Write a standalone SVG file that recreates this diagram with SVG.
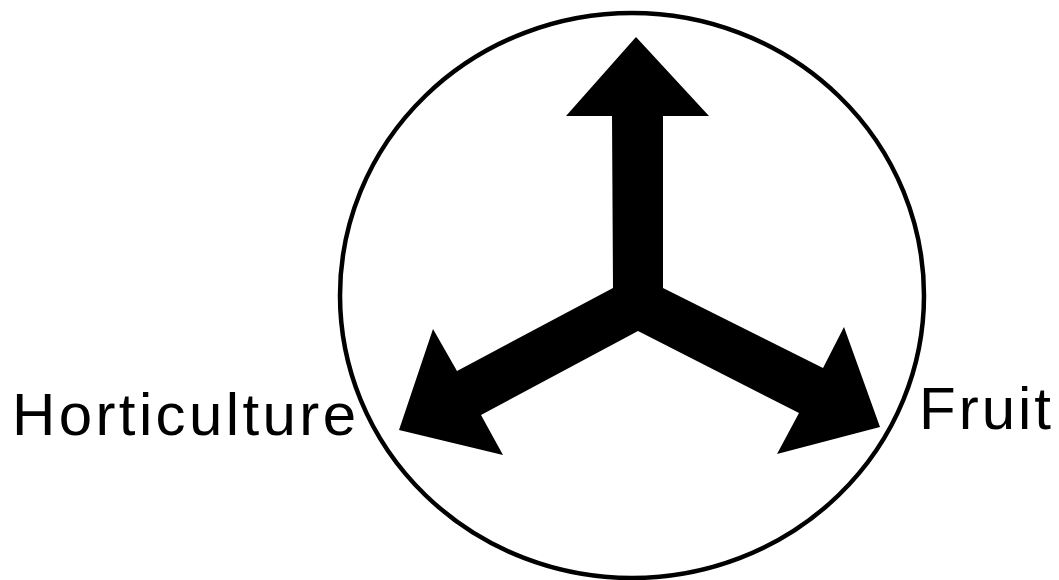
<svg xmlns="http://www.w3.org/2000/svg" width="1059" height="580" viewBox="0 0 1059 580">
  <style>
    .lbl { font-family: "Liberation Sans", Arial, sans-serif; font-size: 60px; fill: #000; }
    .ring { fill: none; stroke: #000; stroke-width: 4.5; }
    .arrow { fill: #000; stroke: none; }
  </style>
  <rect width="1059" height="580" fill="#fff"/>
  <g id="circle">
    <ellipse class="ring" cx="632" cy="295.5" rx="292" ry="282.5"/>
  </g>
  <g id="connectors">
    <polygon class="arrow" points="636,37 709,116 663,116 663,288 823,368 844,327 880,427 777,454 799,413 638,331 481,415 503,455 399,430 433,329 457,371 613,288 612,116 566,116"/>
  </g>
  <g id="node-horticulture">
    <text class="lbl" x="12" y="435" textLength="344" lengthAdjust="spacing">Horticulture</text>
  </g>
  <g id="node-fruit">
    <text class="lbl" x="919" y="429" textLength="132" lengthAdjust="spacing">Fruit</text>
  </g>
</svg>
